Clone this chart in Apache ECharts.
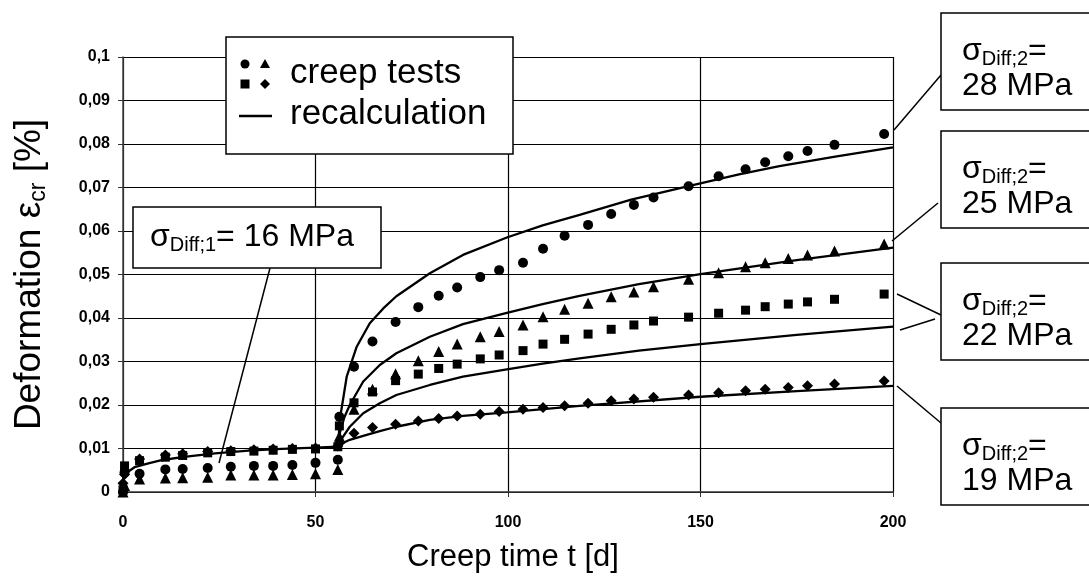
<!DOCTYPE html>
<html>
<head>
<meta charset="utf-8">
<script src="https://cdn.jsdelivr.net/npm/echarts@6/dist/echarts.min.js"></script>
<style>
html,body{margin:0;padding:0;background:#fff;}
#chart{width:1089px;height:585px;}
</style>
</head>
<body>
<div id="chart"></div>
<script>
// ---------- DATA ----------
const xTicks = [0, 50, 100, 150, 200];
const yTickLabels = ['0', '0,01', '0,02', '0,03', '0,04', '0,05', '0,06', '0,07', '0,08', '0,09', '0,1'];

// phase 1 (sigma_Diff;1 = 16 MPa) test points
const phase1Times = [0, 0.4, 4.3, 11, 15.5, 22, 28, 34, 39, 44, 50, 55.8];
const circlePhase1 = [0, 0.0045, 0.0042, 0.0052, 0.0053, 0.0055, 0.0058, 0.006, 0.006, 0.0062, 0.0067, 0.0074];
const trianglePhase1 = [0, 0.0015, 0.003, 0.0032, 0.0033, 0.0034, 0.0039, 0.0039, 0.0039, 0.004, 0.0042, 0.0052];
const squarePhase1 = [0.0005, 0.006, 0.0072, 0.008, 0.0084, 0.009, 0.0093, 0.0094, 0.0096, 0.0098, 0.0099, 0.0104];
const diamondPhase1 = [0.002, 0.004, 0.0076, 0.0085, 0.0088, 0.0093, 0.0095, 0.0097, 0.0099, 0.01, 0.0101, 0.0106];

// load step
const jumpTime = 56.2;
const circleJump = 0.0173;
const triangleJump = 0.0128;
const squareJump = 0.0152;
const diamondJump = 0.0112;

// phase 2 test points
const phase2Times = [60, 64.8, 70.8, 76.7, 82, 86.8, 92.8, 97.7, 103.9, 109.1, 114.7, 120.8, 126.8, 132.7, 137.8, 146.9, 154.7, 161.7, 166.8, 172.8, 177.8, 184.8, 197.7];
const circle28 = [0.0288, 0.0346, 0.0391, 0.0425, 0.0451, 0.047, 0.0494, 0.051, 0.0527, 0.0559, 0.0589, 0.0614, 0.0639, 0.066, 0.0677, 0.0703, 0.0726, 0.0742, 0.0758, 0.0772, 0.0784, 0.0798, 0.0823];
const triangle25 = [0.019, 0.0236, 0.0272, 0.0302, 0.0323, 0.034, 0.0357, 0.0369, 0.0384, 0.0403, 0.042, 0.0434, 0.0449, 0.046, 0.0472, 0.0489, 0.0504, 0.0518, 0.0527, 0.0537, 0.0545, 0.0554, 0.057];
const square22 = [0.0205, 0.023, 0.0256, 0.0271, 0.0284, 0.0294, 0.0306, 0.0315, 0.0325, 0.034, 0.0351, 0.0363, 0.0374, 0.0384, 0.0393, 0.0402, 0.0411, 0.0418, 0.0426, 0.0432, 0.0437, 0.0443, 0.0455];
const diamond19 = [0.0135, 0.0148, 0.0156, 0.0163, 0.0169, 0.0175, 0.0179, 0.0185, 0.019, 0.0194, 0.0198, 0.0204, 0.021, 0.0214, 0.0218, 0.0223, 0.0228, 0.0233, 0.0236, 0.024, 0.0244, 0.0248, 0.0255];

// recalculation curves
const recalcPhase1Times = [0, 0.5, 1.4, 3, 6.6, 10, 15.3, 23.9, 32.6, 41.2, 49.9, 55.9];
const recalcPhase1 = [0.003, 0.0037, 0.0047, 0.0057, 0.0066, 0.0073, 0.008, 0.0089, 0.0095, 0.0099, 0.0102, 0.0104];

const recalc28Times = [55.9, 56.3, 57.2, 58.1, 60.7, 64.1, 67.6, 71, 79.7, 88.3, 99.7, 109, 118.6, 132, 146.9, 160, 170.5, 185, 200];
const recalc28 = [0.0104, 0.0166, 0.0215, 0.0265, 0.0334, 0.0388, 0.0422, 0.045, 0.0503, 0.0545, 0.0585, 0.0613, 0.0637, 0.0672, 0.0703, 0.073, 0.0749, 0.0771, 0.0792];
const recalc25Times = [55.9, 56.3, 57.5, 58.9, 62.4, 66.7, 71, 79.7, 88.3, 99.7, 109, 118.6, 134, 150, 175, 200];
const recalc25 = [0.0104, 0.0135, 0.0172, 0.02, 0.0254, 0.0292, 0.0319, 0.0357, 0.0386, 0.0412, 0.0432, 0.0451, 0.0478, 0.0501, 0.0533, 0.0562];
const recalc22Times = [55.9, 57, 58.9, 62.4, 66.7, 71, 79.7, 88.3, 99.7, 109, 118.6, 134, 150, 175, 200];
const recalc22 = [0.0104, 0.0125, 0.015, 0.0181, 0.0204, 0.0223, 0.0246, 0.0265, 0.0282, 0.0295, 0.0307, 0.0325, 0.034, 0.0361, 0.038];
const recalc19Times = [55.9, 57, 58.9, 62.4, 66.7, 71, 79.7, 88.3, 99.7, 118.6, 150, 175, 200];
const recalc19 = [0.0104, 0.0112, 0.012, 0.0129, 0.014, 0.015, 0.0166, 0.0175, 0.0183, 0.0198, 0.0219, 0.0232, 0.0244];

// ---------- BUILD ----------
function zip(t, v) { return t.map((x, i) => [x, v[i]]); }
function testSeries(p1, jump, p2) {
  return zip(phase1Times, p1).concat([[jumpTime, jump]], zip(phase2Times, p2));
}

const FONT = 'Arial, "Liberation Sans", sans-serif';
const chart = echarts.init(document.getElementById('chart'), null, { renderer: 'canvas' });

function scatter(name, symbol, size, data) {
  return {
    name, type: 'scatter', symbol, symbolSize: size, data,
    itemStyle: { color: '#000', opacity: 1 }, z: 3, silent: true
  };
}
function line(name, data) {
  return {
    name, type: 'line', data, showSymbol: false, symbol: 'none',
    smooth: false,
    lineStyle: { color: '#000', width: 2.3 }, z: 4, silent: true
  };
}

const subRich = {
  s: { fontSize: 32, fontFamily: FONT, fill: '#000', lineHeight: 35 },
  sub: { fontSize: 20, fontFamily: FONT, fill: '#000', verticalAlign: 'bottom', lineHeight: 23 }
};

function sigmaBox(y, value) {
  return [
    { type: 'rect', z: 100, shape: { x: 941, y: y, width: 160, height: 97 },
      style: { fill: '#fff', stroke: '#000', lineWidth: 1.5 } },
    { type: 'text', z: 101, x: 962, y: y + 21,
      style: { text: '{s|σ}{sub|Diff;2}{s|=}\n{s|' + value + ' MPa}', rich: subRich, fill: '#000' } }
  ];
}
function leader(x1, y1, x2, y2) {
  return { type: 'line', z: 99, shape: { x1, y1, x2, y2 }, style: { stroke: '#000', lineWidth: 1.5 } };
}

const graphics = [].concat(
  // legend box
  [{ type: 'rect', z: 100, shape: { x: 226, y: 37, width: 287, height: 117 },
     style: { fill: '#fff', stroke: '#000', lineWidth: 1.5 } },
   { type: 'circle', z: 101, shape: { cx: 245, cy: 64, r: 4.5 }, style: { fill: '#000' } },
   { type: 'polygon', z: 101, shape: { points: [[265, 59], [270, 68], [260, 68]] }, style: { fill: '#000' } },
   { type: 'rect', z: 101, shape: { x: 240.5, y: 79.5, width: 9, height: 9 }, style: { fill: '#000' } },
   { type: 'polygon', z: 101, shape: { points: [[265, 79], [270, 84], [265, 89], [260, 84]] }, style: { fill: '#000' } },
   { type: 'text', z: 101, x: 290, y: 56, style: { text: 'creep tests', fontSize: 35, fontFamily: FONT, fill: '#000' } },
   { type: 'line', z: 101, shape: { x1: 239, y1: 116, x2: 272, y2: 116 }, style: { stroke: '#000', lineWidth: 2.5 } },
   { type: 'text', z: 101, x: 290, y: 97, style: { text: 'recalculation', fontSize: 35, fontFamily: FONT, fill: '#000' } },
   // sigma diff 1 box
   { type: 'rect', z: 100, shape: { x: 133, y: 207, width: 248, height: 61 },
     style: { fill: '#fff', stroke: '#000', lineWidth: 1.5 } },
   { type: 'text', z: 101, x: 150, y: 220,
     style: { text: '{s|σ}{sub|Diff;1}{s|= 16 MPa}', rich: subRich, fill: '#000' } },
   leader(270, 268, 219, 463)
  ],
  sigmaBox(13, '28'), sigmaBox(131, '25'), sigmaBox(263, '22'), sigmaBox(408, '19'),
  [leader(941, 75, 894, 130),
   leader(938, 203, 892, 241),
   leader(941, 315, 897, 294),
   leader(935, 319, 900, 330),
   leader(897, 386, 941, 423)]
);

const option = {
  backgroundColor: '#fff',
  animation: false,
  grid: { left: 123, right: 196, top: 57, bottom: 93, containLabel: false, show: false },
  xAxis: {
    type: 'value', min: xTicks[0], max: xTicks[xTicks.length - 1], interval: 50,
    name: 'Creep time t [d]', nameLocation: 'middle', nameGap: 50,
    nameTextStyle: { fontSize: 31, fontFamily: FONT, color: '#000', padding: [0, 0, 0, 10] },
    axisLine: { show: true, onZero: false, lineStyle: { color: '#333', width: 1.5 } },
    axisTick: { show: true, length: 5, lineStyle: { color: '#333' } },
    axisLabel: { margin: 23, fontSize: 16, fontWeight: 'bold', fontFamily: FONT, color: '#000',
                 formatter: v => String(v) },
    splitLine: { show: true, lineStyle: { color: '#000', width: 1.2 } }
  },
  yAxis: {
    type: 'value', min: 0, max: 0.1, interval: 0.01,
    name: '{a|Deformation ε}{b|cr}{a| [%]}', nameLocation: 'middle', nameGap: 73,
    nameTextStyle: {
      rich: {
        a: { fontSize: 37, fontFamily: FONT, color: '#000', lineHeight: 40 },
        b: { fontSize: 23, fontFamily: FONT, color: '#000', verticalAlign: 'bottom', lineHeight: 26 }
      }
    },
    axisLine: { show: true, lineStyle: { color: '#444', width: 1.5 } },
    axisTick: { show: true, length: 5, lineStyle: { color: '#333' } },
    axisLabel: { margin: 13, fontSize: 16, fontWeight: 'bold', fontFamily: FONT, color: '#000',
                 formatter: v => yTickLabels[Math.round(v * 100)] },
    splitLine: { show: true, lineStyle: { color: '#000', width: 1.2 } }
  },
  series: [
    scatter('28 MPa', 'circle', 10, testSeries(circlePhase1, circleJump, circle28)),
    scatter('25 MPa', 'triangle', 11, testSeries(trianglePhase1, triangleJump, triangle25)),
    scatter('22 MPa', 'rect', 9, testSeries(squarePhase1, squareJump, square22)),
    scatter('19 MPa', 'diamond', 11, testSeries(diamondPhase1, diamondJump, diamond19)),
    line('recalc 16', zip(recalcPhase1Times, recalcPhase1)),
    line('recalc 28', zip(recalc28Times, recalc28)),
    line('recalc 25', zip(recalc25Times, recalc25)),
    line('recalc 22', zip(recalc22Times, recalc22)),
    line('recalc 19', zip(recalc19Times, recalc19))
  ],
  graphic: { elements: graphics }
};
chart.setOption(option);
</script>
</body>
</html>
